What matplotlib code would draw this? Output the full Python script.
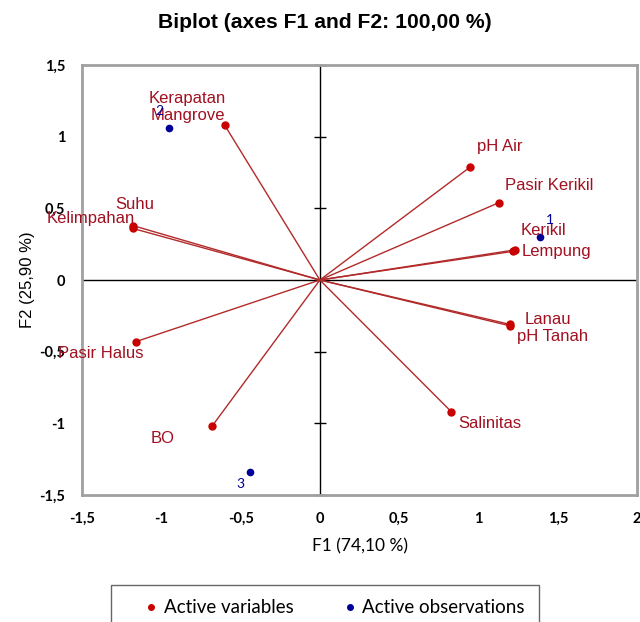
import matplotlib
matplotlib.use("Agg")
import matplotlib.pyplot as plt
from matplotlib.lines import Line2D
import numpy as np

# ---- data ----
var_names = ["Kerapatan\nMangrove", "Suhu", "Kelimpahan", "Pasir Halus", "BO",
             "Salinitas", "pH Air", "Pasir Kerikil", "Kerikil", "Lempung",
             "Lanau", "pH Tanah"]
var_f1 = [-0.60, -1.18, -1.18, -1.16, -0.68, 0.83, 0.95, 1.13, 1.23, 1.22, 1.20, 1.20]
var_f2 = [1.08, 0.38, 0.36, -0.43, -1.02, -0.92, 0.79, 0.54, 0.21, 0.20, -0.31, -0.32]

obs_names = ["1", "2", "3"]
obs_f1 = [1.39, -0.95, -0.44]
obs_f2 = [0.30, 1.06, -1.34]

xticks = [-1.5, -1, -0.5, 0, 0.5, 1, 1.5, 2]
yticks = [-1.5, -1, -0.5, 0, 0.5, 1, 1.5]

# ---- label offsets (pixels) and alignment ----
var_label_style = {
    "Kerapatan\nMangrove": (-37, 18, "center", "center"),
    "Suhu": (2, 21, "center", "center"),
    "Kelimpahan": (2, 10, "right", "center"),
    "Pasir Halus": (8, -12, "right", "center"),
    "BO": (-61, -12, "left", "center"),
    "Salinitas": (7, -12, "left", "center"),
    "pH Air": (7, 20, "left", "center"),
    "Pasir Kerikil": (6, 17, "left", "center"),
    "Kerikil": (6, 19, "left", "center"),
    "Lempung": (8, 0, "left", "center"),
    "Lanau": (14, 5, "left", "center"),
    "pH Tanah": (7, -11, "left", "center"),
}
obs_label_style = {
    "1": (10, 17),
    "2": (-10, 17),
    "3": (-10, -12),
}

def fmt(v):
    s = f"{v:g}"
    return s.replace(".", ",")

fig = plt.figure(figsize=(6.40, 6.22), dpi=100)
ax = fig.add_axes([82/640, 1-495/622, (637-82)/640, (495-65)/622])

line_col = "#B22A2A"
pt_col = "#C80000"
lab_col = "#A01020"
obs_col = "#000099"

ax.axhline(0, color="black", lw=1.0, zorder=1)
ax.axvline(0, color="black", lw=1.0, zorder=1)
ax.plot(np.zeros(len(yticks)), yticks, ls="none", marker="_", ms=8.5,
        mew=1.0, color="black", zorder=1, clip_on=False)

for name, x, y in zip(var_names, var_f1, var_f2):
    ax.plot([0, x], [0, y], color=line_col, lw=1.0, zorder=2)
ax.plot(var_f1, var_f2, ls="none", marker="o", ms=5, color=pt_col, zorder=3)
for name, x, y in zip(var_names, var_f1, var_f2):
    dx, dy, ha, va = var_label_style[name]
    ax.annotate(name, (x, y), xytext=(dx, dy), textcoords="offset pixels",
                ha=ha, va=va, color=lab_col, fontsize=12,
                family="Liberation Sans", linespacing=1.15, zorder=4)

ax.plot(obs_f1, obs_f2, ls="none", marker="o", ms=4.5, color=obs_col, zorder=3)
for name, x, y in zip(obs_names, obs_f1, obs_f2):
    dx, dy = obs_label_style[name]
    ax.annotate(name, (x, y), xytext=(dx, dy), textcoords="offset pixels",
                ha="center", va="center", color=obs_col, fontsize=10,
                family="Lato", zorder=4)

ax.set_xlim(-1.5, 2)
ax.set_ylim(-1.5, 1.5)
ax.set_xticks(xticks)
ax.set_yticks(yticks)
ax.set_xticklabels([fmt(v) for v in xticks], family="Lato", fontsize=10.5, fontweight="bold")
ax.set_yticklabels([fmt(v) for v in yticks], family="Lato", fontsize=10.5, fontweight="bold")
ax.tick_params(axis="x", length=0, pad=12)
ax.tick_params(axis="y", length=0, pad=12)

for sp in ax.spines.values():
    sp.set_color("#A0A0A0")
    sp.set_linewidth(2.0)

ax.set_xlabel("F1 (74,10 %)", family="Lato", fontsize=12.5, labelpad=9)
ax.set_ylabel("F2 (25,90 %)", family="Liberation Sans", fontsize=12, labelpad=3)

fig.text(325/640, 1-22/622, "Biplot (axes F1 and F2: 100,00 %)", ha="center",
         va="center", fontsize=15.2, fontweight="bold", family="Liberation Sans")

handles = [
    Line2D([], [], ls="none", marker="o", ms=4, color=pt_col, label="Active variables"),
    Line2D([], [], ls="none", marker="o", ms=4, color=obs_col, label="Active observations"),
]
leg = fig.legend(handles=handles, loc="upper left",
                 bbox_to_anchor=(111/640, 1-585/622, 428/640, 0.0), mode="expand",
                 ncol=2, frameon=True,
                 fancybox=False, edgecolor="#404040", borderpad=0.77,
                 handletextpad=-0.72, columnspacing=0.5, handlelength=2.77,
                 prop={"family": "Lato", "size": 13.5}, borderaxespad=0)
leg.get_frame().set_linewidth(1.0)

fig.savefig("out.png", dpi=100)
